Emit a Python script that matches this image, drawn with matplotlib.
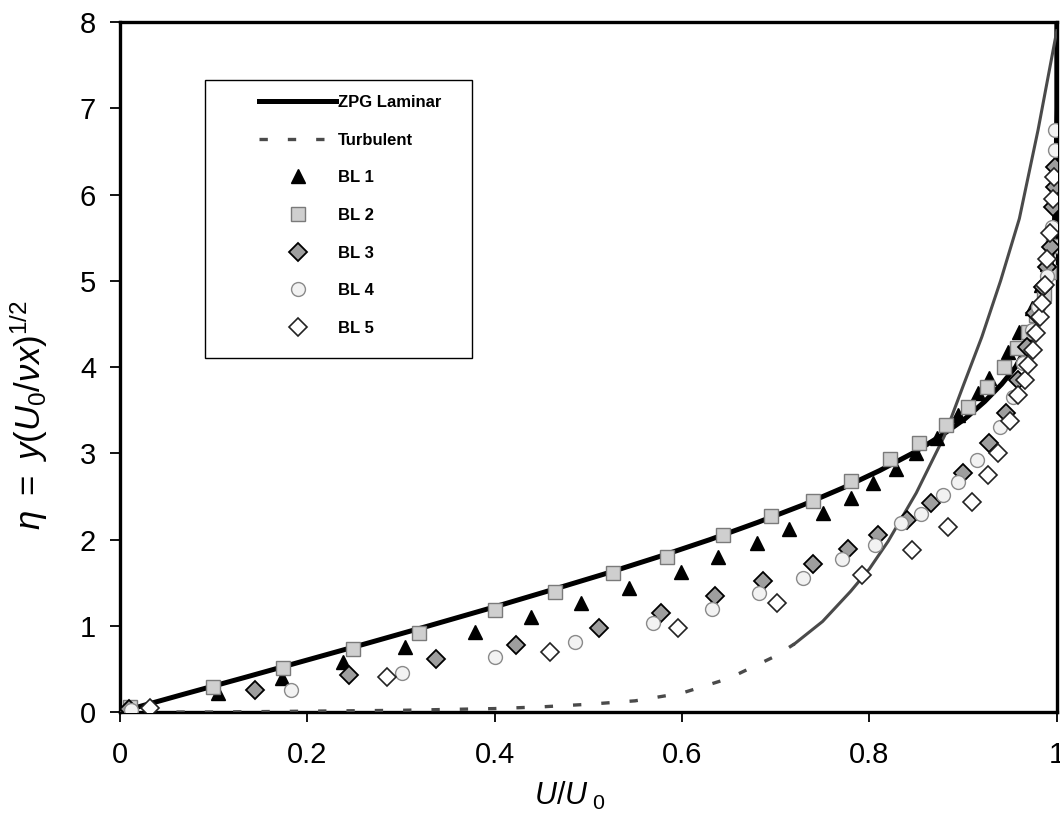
import numpy as np
import matplotlib.pyplot as plt
from matplotlib.patches import Rectangle

plt.rcParams['font.family'] = ['Liberation Sans', 'DejaVu Sans']
plt.rcParams['mathtext.fontset'] = 'custom'
plt.rcParams['mathtext.it'] = 'Liberation Sans:italic'
plt.rcParams['mathtext.rm'] = 'Liberation Sans'

# ZPG laminar profile
lam_u = [0.0, 0.066, 0.133, 0.199, 0.265, 0.330, 0.394, 0.456, 0.517, 0.575, 0.630,
         0.681, 0.729, 0.772, 0.811, 0.846, 0.876, 0.902, 0.923, 0.941, 0.956, 0.976,
         0.988, 0.994, 0.997, 0.999, 1.0, 1.0]
lam_eta = [0.0, 0.2, 0.4, 0.6, 0.8, 1.0, 1.2, 1.4, 1.6, 1.8, 2.0,
           2.2, 2.4, 2.6, 2.8, 3.0, 3.2, 3.4, 3.6, 3.8, 4.0, 4.4,
           4.8, 5.2, 5.6, 6.0, 7.0, 8.0]

# turbulent profile, dashed part and dense part
turb_u_lo = [0.0, 0.1, 0.2, 0.3, 0.4, 0.45, 0.5, 0.55, 0.6, 0.65, 0.7, 0.72]
turb_eta_lo = [0.0, 0.0, 0.01, 0.02, 0.04, 0.06, 0.09, 0.13, 0.22, 0.39, 0.65, 0.79]
turb_u_hi = [0.72, 0.75, 0.78, 0.8, 0.82, 0.85, 0.88, 0.9, 0.92, 0.94, 0.96, 0.98, 1.0]
turb_eta_hi = [0.79, 1.05, 1.4, 1.66, 1.98, 2.54, 3.2, 3.78, 4.35, 5.0, 5.72, 6.75, 7.9]

bl1_u = [0.031, 0.105, 0.173, 0.238, 0.304, 0.379, 0.439, 0.492, 0.543, 0.599, 0.638,
         0.680, 0.714, 0.750, 0.780, 0.804, 0.828, 0.850, 0.872, 0.895, 0.916, 0.928,
         0.948, 0.960, 0.973, 0.983, 0.990]
bl1_eta = [0.02, 0.22, 0.39, 0.58, 0.75, 0.93, 1.10, 1.26, 1.44, 1.62, 1.80,
           1.96, 2.12, 2.31, 2.48, 2.66, 2.82, 3.00, 3.18, 3.44, 3.70, 3.87,
           4.17, 4.41, 4.68, 4.95, 5.2]

bl2_u = [0.011, 0.099, 0.174, 0.249, 0.319, 0.400, 0.464, 0.526, 0.584, 0.644, 0.695,
         0.740, 0.780, 0.822, 0.853, 0.882, 0.905, 0.926, 0.944, 0.957, 0.969, 0.978,
         0.986, 0.992, 0.996]
bl2_eta = [0.06, 0.29, 0.51, 0.73, 0.92, 1.18, 1.39, 1.61, 1.80, 2.05, 2.27,
           2.45, 2.68, 2.93, 3.12, 3.33, 3.54, 3.77, 4.00, 4.22, 4.41, 4.60,
           4.85, 5.1, 5.4]

bl3_u = [0.010, 0.144, 0.245, 0.338, 0.423, 0.511, 0.578, 0.635, 0.686, 0.740, 0.777,
         0.809, 0.840, 0.866, 0.900, 0.928, 0.946, 0.959, 0.968, 0.977, 0.985, 0.989,
         0.994, 0.996, 0.998, 0.998]
bl3_eta = [0.03, 0.26, 0.43, 0.61, 0.78, 0.97, 1.15, 1.34, 1.52, 1.72, 1.89,
           2.05, 2.23, 2.42, 2.77, 3.12, 3.47, 3.85, 4.23, 4.63, 4.93, 5.16,
           5.39, 5.85, 6.09, 6.32]

bl4_u = [0.012, 0.183, 0.301, 0.400, 0.486, 0.569, 0.632, 0.682, 0.729, 0.771, 0.806,
         0.834, 0.855, 0.878, 0.895, 0.915, 0.939, 0.953, 0.964, 0.973, 0.980, 0.989,
         0.995, 0.998, 0.998]
bl4_eta = [0.02, 0.26, 0.45, 0.64, 0.81, 1.03, 1.19, 1.38, 1.55, 1.77, 1.94,
           2.19, 2.30, 2.52, 2.67, 2.92, 3.30, 3.65, 4.05, 4.43, 4.70, 5.05,
           5.62, 6.52, 6.75]

bl5_u = [0.032, 0.285, 0.459, 0.596, 0.701, 0.792, 0.845, 0.884, 0.909, 0.927, 0.937,
         0.950, 0.959, 0.966, 0.969, 0.975, 0.978, 0.982, 0.984, 0.987, 0.990, 0.993,
         0.996, 0.997]
bl5_eta = [0.05, 0.41, 0.70, 0.98, 1.26, 1.59, 1.88, 2.15, 2.43, 2.75, 3.00,
           3.38, 3.67, 3.85, 4.02, 4.20, 4.39, 4.58, 4.74, 4.95, 5.25, 5.55,
           5.95, 6.2]

fig = plt.figure(figsize=(10.6, 8.19), dpi=100)
ax = fig.add_axes([0.113, 0.1306, 0.884, 0.8425])

ax.plot(lam_u, lam_eta, color='black', lw=3.6, zorder=3, label='ZPG Laminar')
ax.plot(turb_u_lo, turb_eta_lo, color='#4a4a4a', lw=2.4, ls=(0, (2.5, 6)),
        zorder=3, label='Turbulent')
ax.plot(turb_u_hi, turb_eta_hi, color='#4a4a4a', lw=2.2, zorder=3)

ax.plot(bl1_u, bl1_eta, ls='none', marker='^', ms=9.5, mfc='black', mec='black',
        zorder=4, label='BL 1')
ax.plot(bl2_u, bl2_eta, ls='none', marker='s', ms=10, mfc='#cfcfcf', mec='#7a7a7a',
        mew=1.0, zorder=4, label='BL 2')
ax.plot(bl3_u, bl3_eta, ls='none', marker='D', ms=9.5, mfc='#9e9e9e', mec='black',
        mew=1.3, zorder=4, label='BL 3')
ax.plot(bl4_u, bl4_eta, ls='none', marker='o', ms=10, mfc='#f2f2f2', mec='#8a8a8a',
        mew=1.0, zorder=4, label='BL 4')
ax.plot(bl5_u, bl5_eta, ls='none', marker='D', ms=9.5, mfc='white', mec='#222222',
        mew=1.2, zorder=4, label='BL 5')

ax.set_xlim(0, 1)
ax.set_ylim(0, 8)
ax.set_xticks([0, 0.2, 0.4, 0.6, 0.8, 1])
ax.set_xticklabels(['0', '0.2', '0.4', '0.6', '0.8', '1'])
ax.set_yticks(range(0, 9))
ax.tick_params(direction='out', length=7, width=1.3, labelsize=21)
ax.tick_params(axis='x', pad=14)
ax.tick_params(axis='y', pad=10)
for s in ax.spines.values():
    s.set_linewidth(2.4)

ax.set_xlabel(r'$U/U_{\ 0}$', fontsize=22)
ax.xaxis.set_label_coords(0.48, -0.098)
ax.set_ylabel(r'$\eta\ =\ y(U_{0}/\nu x)^{1/2}$', fontsize=25)
ax.yaxis.set_label_coords(-0.075, 0.43)

# legend box
ax.add_patch(Rectangle((0.0907, 0.513), 0.285, 0.403, transform=ax.transAxes,
                       facecolor='white', edgecolor='black', lw=1.0, zorder=5))
leg = ax.legend(loc='upper left', bbox_to_anchor=(0.133, 0.916), frameon=False,
                prop={'weight': 'bold', 'size': 12}, handlelength=4.6,
                handletextpad=0.1, labelspacing=1.36)
leg.set_zorder(6)

fig.savefig('out.png', dpi=100)
